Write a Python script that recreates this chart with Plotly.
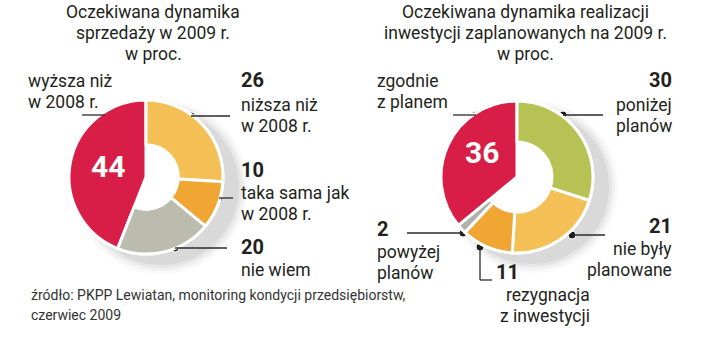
import plotly.graph_objects as go

W, H = 720, 340

# ---------------- data ----------------
sales_labels = ["niższa niż w 2008 r.", "taka sama jak w 2008 r.", "nie wiem", "wyższa niż w 2008 r."]
sales_values = [26, 10, 20, 44]
sales_colors = ["#F4BF55", "#EFA633", "#BBBBAE", "#D81E47"]

inv_labels = ["poniżej planów", "nie były planowane", "rezygnacja z inwestycji", "powyżej planów", "zgodnie z planem"]
inv_values = [30, 21, 11, 2, 36]
inv_colors = ["#B7C254", "#F4BF55", "#EFA633", "#AEB2A8", "#D81E47"]

FONT = "Roboto, Liberation Sans, sans-serif"
TXT = "#231F20"

fig = go.Figure()


def dom(cx, cy, r):
    return dict(x=[(cx - r) / W, (cx + r) / W], y=[1 - (cy + r) / H, 1 - (cy - r) / H])


def add_donut(labels, values, colors, cx, cy, r, hole, full_idx):
    d = dom(cx, cy, r)
    n = len(colors)
    full_cols = [c if i == full_idx else "white" for i, c in enumerate(colors)]
    fig.add_trace(go.Pie(labels=labels, values=values, sort=False, direction="clockwise",
                         rotation=0, hole=0, domain=d, textinfo="none", showlegend=False,
                         hoverinfo="label+value",
                         marker=dict(colors=full_cols, line=dict(color="white", width=3))))
    ring_cols = ["rgba(0,0,0,0)" if i == full_idx else c for i, c in enumerate(colors)]
    ring_lw = [0 if i == full_idx else 3 for i in range(n)]
    fig.add_trace(go.Pie(labels=labels, values=values, sort=False, direction="clockwise",
                         rotation=0, hole=hole, domain=d, textinfo="none", showlegend=False,
                         hoverinfo="label+value",
                         marker=dict(colors=ring_cols, line=dict(color="white", width=ring_lw))))


add_donut(sales_labels, sales_values, sales_colors, 146, 177, 77, 0.42, 3)
add_donut(inv_labels, inv_values, inv_colors, 517, 177, 76, 0.46, 4)

# soft shadows (lower right)
shapes = []
for (cx, cy, r) in [(146, 177, 77), (517, 177, 76)]:
    for dr, op in [(10, 0.03), (7, 0.045), (4, 0.06), (1, 0.08)]:
        shapes.append(dict(type="circle", xref="x", yref="y", layer="below",
                           x0=cx + 15 - r - dr, x1=cx + 15 + r + dr,
                           y0=cy + 10 - r - dr, y1=cy + 10 + r + dr,
                           line=dict(width=0), fillcolor=f"rgba(70,70,70,{op})"))

# leader lines
LC = "#2a2a2a"
lines = [
    (82, 115, 105, 115),
    (191, 116, 230, 116),
    (219, 198, 233, 198),
    (175, 248, 227, 248),
    (453, 115, 476, 115),
    (563, 115, 603, 115),
    (572, 235, 605, 235),
    (407, 233, 463, 233),
    (480, 247, 480, 280),
    (480, 280, 492, 280),
]
for x0, y0, x1, y1 in lines:
    shapes.append(dict(type="line", xref="x", yref="y", x0=x0, y0=y0, x1=x1, y1=y1,
                       line=dict(color=LC, width=1.3)))

dots_x = [105, 191, 219, 175, 476, 563, 572, 463, 480]
dots_y = [115, 116, 198, 248, 115, 115, 235, 233, 247]
fig.add_trace(go.Scatter(x=dots_x, y=dots_y, mode="markers", showlegend=False, hoverinfo="skip",
                         marker=dict(color="#1a1a1a", size=8, line=dict(color="white", width=1))))

ann = []


def t(x, y, s, size=18, anchor="left", bold=False, color=TXT):
    ann.append(dict(x=x, y=y, xref="x", yref="y", text=(f"<b>{s}</b>" if bold else s),
                    showarrow=False, xanchor=anchor, yanchor="middle",
                    font=dict(family=FONT, size=size, color=color)))


def block(x, ys, lines_, size=17, anchor="left", color=TXT):
    for y, l in zip(ys, lines_):
        t(x, y, l, size, anchor, color=color)


TS = 17.5
LS = 17.5
NS = 20

# titles
block(153, [12, 33, 54], ["Oczekiwana dynamika", "sprzedaży w 2009 r.", "w proc."], TS, "center")
block(525, [12, 33, 54], ["Oczekiwana dynamika realizacji", "inwestycji zaplanowanych na 2009 r.", "w proc."],
      TS, "center")

# left labels
block(26, [81, 102], ["wyższa niż", "w 2008 r."], LS)
t(239, 80, str(sales_values[0]), NS, bold=True)
block(239, [105, 126], ["niższa niż", "w 2008 r."], LS)
t(239, 170, str(sales_values[1]), NS, bold=True)
block(239, [193, 214], ["taka sama jak", "w 2008 r."], LS)
t(239, 247, str(sales_values[2]), NS, bold=True)
t(239, 270, "nie wiem", LS)
t(108, 166, str(sales_values[3]), 30, "center", bold=True, color="white")

# right labels
block(375, [81, 102], ["zgodnie", "z planem"], LS)
t(674, 80, str(inv_values[0]), NS, "right", bold=True)
block(674, [105, 126], ["poniżej", "planów"], LS, "right")
t(674, 226, str(inv_values[1]), NS, "right", bold=True)
block(674, [249, 270], ["nie były", "planowane"], LS, "right")
t(375, 229, str(inv_values[3]), NS, bold=True)
block(375, [252, 273], ["powyżej", "planów"], LS)
t(494, 272, str(inv_values[2]), NS, bold=True)
block(592, [295, 316], ["rezygnacja", "z inwestycji"], LS, "right")
t(482, 152, str(inv_values[4]), 30, "center", bold=True, color="white")

# source
block(29, [295, 315], ["źródło: PKPP Lewiatan, monitoring kondycji przedsiębiorstw,", "czerwiec 2009"], 14,
      color="#333333")

fig.update_layout(
    width=W, height=H, margin=dict(l=0, r=0, t=0, b=0),
    paper_bgcolor="white", plot_bgcolor="white",
    xaxis=dict(range=[0, W], visible=False, domain=[0, 1], fixedrange=True),
    yaxis=dict(range=[H, 0], visible=False, domain=[0, 1], fixedrange=True),
    shapes=shapes, annotations=ann,
)

fig.write_html("out.html")
